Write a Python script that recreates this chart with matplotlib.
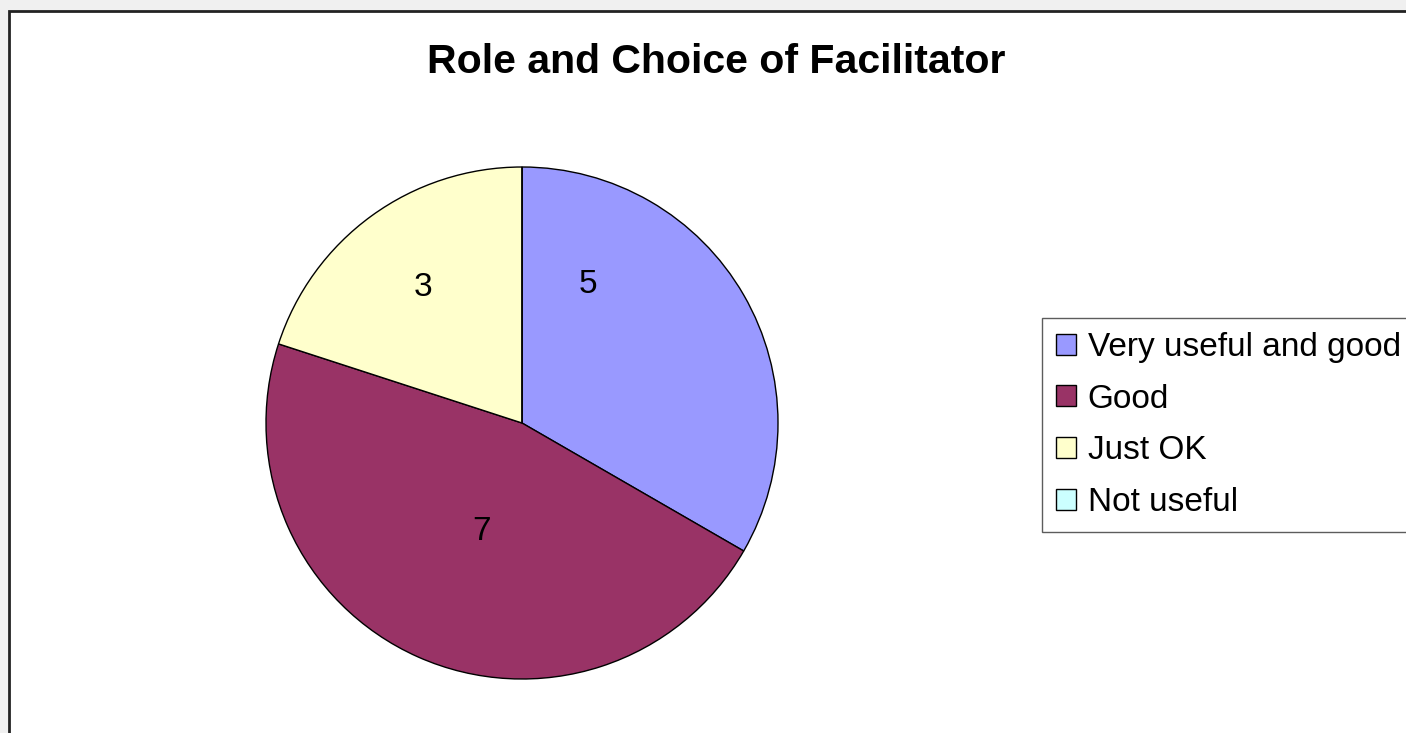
import matplotlib.pyplot as plt
from matplotlib.patches import Rectangle

# data
categories = ['Very useful and good', 'Good', 'Just OK', 'Not useful']
counts = [5, 7, 3, 0]
colors = ['#9999FF', '#993366', '#FFFFCC', '#CCFFFF']

W, H = 1406, 733
fig = plt.figure(figsize=(W / 100, H / 100), dpi=100)
plt.rcParams['font.family'] = ['Liberation Sans', 'DejaVu Sans']

# sheet background outside the chart area
fig.patches.append(Rectangle((0, 0), 1, 1, transform=fig.transFigure,
                             facecolor='#f0f0f0', edgecolor='none', zorder=0))
fig.patches.append(Rectangle((9 / W, -0.1), 1.2, 1.1 - 11 / H, transform=fig.transFigure,
                             facecolor='white', edgecolor='#222222', linewidth=2, zorder=1))

fig.text(716 / W, 1 - 62 / H, 'Role and Choice of Facilitator', ha='center', va='center',
         fontsize=29.5, fontweight='bold')

ax = fig.add_axes([266 / W, 54 / H, 512 / W, 512 / H])
ax.set_zorder(2)
wedges, texts = ax.pie(counts, colors=colors, startangle=90, counterclock=False,
                       labels=[str(c) if c else '' for c in counts],
                       wedgeprops=dict(edgecolor='black', linewidth=1),
                       textprops=dict(fontsize=24))
# excel "best fit" label spots
label_pos = [(0.258, 0.541), (-0.16, -0.425), (-0.387, 0.529), (0, 0)]
for t, p in zip(texts, label_pos):
    t.set_position(p)
    t.set_ha('center')
    t.set_va('center')
ax.set_xlim(-1, 1)
ax.set_ylim(-1, 1)
ax.set_aspect('equal')

leg = fig.legend(wedges, categories, loc='upper left',
                 bbox_to_anchor=(1042 / W, 1 - 318 / H), fontsize=24,
                 frameon=True, fancybox=False, edgecolor='#333333',
                 handlelength=0.6, handleheight=0.6, handletextpad=0.35,
                 labelspacing=0.62, borderpad=0.42, borderaxespad=0)
leg.get_frame().set_linewidth(1)
leg.set_zorder(3)

fig.savefig('out.png', dpi=100)
